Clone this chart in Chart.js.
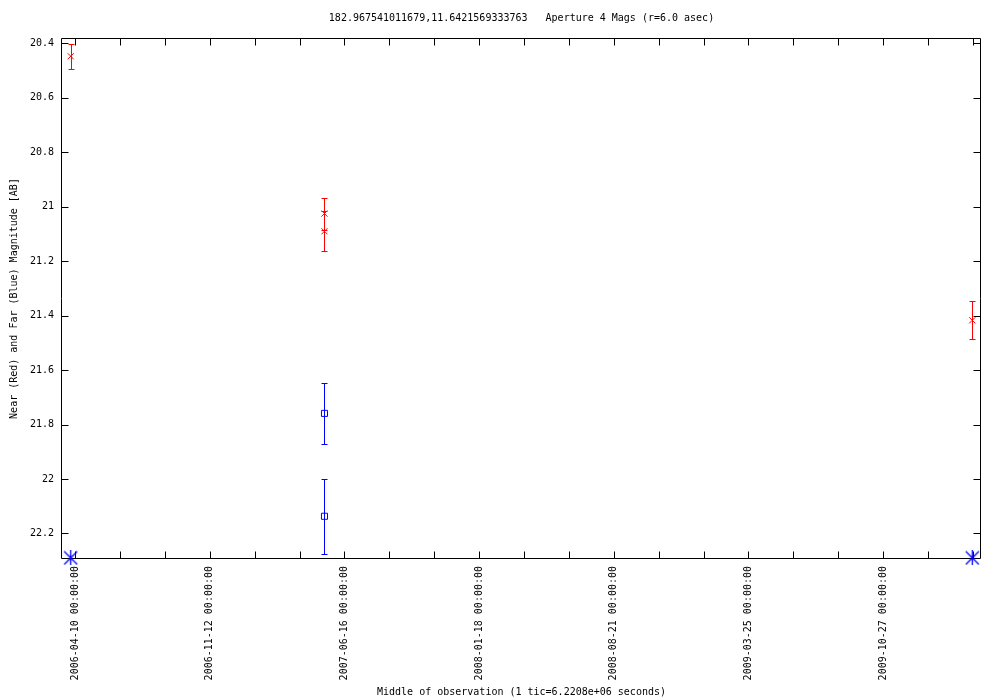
<!DOCTYPE html>
<html>
<head>
<meta charset="utf-8">
<script src="https://cdn.jsdelivr.net/npm/chart.js@4/dist/chart.umd.min.js"></script>
<style>
  html, body { margin: 0; padding: 0; background: #fff; }
  #wrap { width: 1000px; height: 700px; }
</style>
</head>
<body>
<div id="wrap"><canvas id="c" width="1000" height="700"></canvas></div>
<script>
// ---- data ----
const titleText = '182.967541011679,11.6421569333763   Aperture 4 Mags (r=6.0 asec)';
const xTitle = 'Middle of observation (1 tic=6.2208e+06 seconds)';
const yTitle = 'Near (Red) and Far (Blue) Magnitude [AB]';

const nearDates  = ['2006-04-03', '2007-05-15', '2007-05-15', '2010-03-19'];
const nearMags   = [20.447, 21.025, 21.090, 21.417];
const nearErrors = [0.046, 0.059, 0.073, 0.069];

const farDates  = ['2007-05-15', '2007-05-15'];
const farMags   = [21.759, 22.137];
const farErrors = [0.112, 0.137];

const limitDates = ['2006-04-03', '2010-03-19'];
const limitMags  = [22.29, 22.29];

const xRange = ['2006-03-20', '2010-04-02'];
const yRange = [20.380, 22.294];
const tickDays = 72;       // 1 tic = 6.2208e+06 s
const labelEvery = 3;
const yStep = 0.2;

// ---- helpers ----
const DAY = 86400000;
const toDays = s => Date.UTC(+s.slice(0,4), +s.slice(5,7) - 1, +s.slice(8,10)) / DAY;
const pts = (dates, vals) => dates.map((d, i) => ({x: toDays(d), y: vals[i]}));
function stepTicks(step) {
  return scale => {
    const out = [];
    for (let k = Math.ceil(scale.min / step - 1e-9); k * step <= scale.max + 1e-9; k++) {
      out.push({value: Math.round(k * step * 1e6) / 1e6});
    }
    scale.ticks = out;
  };
}

// asterisk marker (vertical + diagonals)
function makeStar(color) {
  const c = document.createElement('canvas');
  c.width = 15; c.height = 15;
  const g = c.getContext('2d');
  g.strokeStyle = color; g.lineWidth = 1.3;
  g.beginPath();
  g.moveTo(7.5, 0); g.lineTo(7.5, 15);
  g.moveTo(1, 1); g.lineTo(14, 14);
  g.moveTo(14, 1); g.lineTo(1, 14);
  g.stroke();
  return c;
}

const FONT = {family: 'DejaVu Sans Mono', size: 10};
Chart.defaults.font.family = FONT.family;
Chart.defaults.font.size = FONT.size;
Chart.defaults.color = '#000';

const frameTicks = {
  id: 'frameTicks',
  beforeDatasetsDraw(chart) {
    const ctx = chart.ctx, a = chart.chartArea;
    const L = Math.round(a.left) - 0.5, R = Math.round(a.right) - 0.5;
    const T = Math.round(a.top) + 0.5, B = Math.round(a.bottom) - 0.5;
    const len = 7;
    ctx.save();
    ctx.strokeStyle = '#000';
    ctx.lineWidth = 1;
    ctx.beginPath();
    ctx.rect(L, T, R - L, B - T);
    chart.scales.x.ticks.forEach(t => {
      const x = Math.round(chart.scales.x.getPixelForValue(t.value)) + 0.5;
      ctx.moveTo(x, B); ctx.lineTo(x, B - len);
      ctx.moveTo(x, T); ctx.lineTo(x, T + len);
    });
    chart.scales.y.ticks.forEach(t => {
      const y = Math.round(chart.scales.y.getPixelForValue(t.value)) + 0.5;
      ctx.moveTo(L, y); ctx.lineTo(L + len, y);
      ctx.moveTo(R, y); ctx.lineTo(R - len, y);
    });
    ctx.stroke();
    ctx.restore();
  }
};

const errorBars = {
  id: 'errorBars',
  afterDatasetsDraw(chart) {
    const ctx = chart.ctx, ys = chart.scales.y, xs = chart.scales.x;
    chart.data.datasets.forEach(ds => {
      if (!ds.errors) return;
      ctx.save();
      ctx.strokeStyle = ds.borderColor;
      ctx.lineWidth = 1;
      ds.data.forEach((p, i) => {
        const e = ds.errors[i];
        const x = Math.round(xs.getPixelForValue(p.x)) + 0.5;
        const y1 = Math.round(ys.getPixelForValue(p.y - e)) + 0.5;
        const y2 = Math.round(ys.getPixelForValue(p.y + e)) + 0.5;
        ctx.beginPath();
        ctx.moveTo(x, y1); ctx.lineTo(x, y2);
        ctx.moveTo(x - 3, y1); ctx.lineTo(x + 3, y1);
        ctx.moveTo(x - 3, y2); ctx.lineTo(x + 3, y2);
        ctx.stroke();
      });
      ctx.restore();
    });
  }
};

new Chart(document.getElementById('c'), {
  type: 'scatter',
  data: {
    datasets: [
      {
        label: 'Near',
        data: pts(nearDates, nearMags),
        errors: nearErrors,
        borderColor: '#ff0000',
        backgroundColor: '#ff0000',
        pointStyle: 'crossRot',
        pointRadius: 4.3,
        pointBorderWidth: 1,
        pointHoverRadius: 4.3
      },
      {
        label: 'Far',
        data: pts(farDates, farMags),
        errors: farErrors,
        borderColor: '#0000ff',
        backgroundColor: 'rgba(0,0,0,0)',
        pointStyle: 'rect',
        pointRadius: 4.3,
        pointBorderWidth: 1,
        pointHoverRadius: 4.3
      },
      {
        label: 'Limits',
        data: pts(limitDates, limitMags),
        borderColor: '#0000ff',
        backgroundColor: '#0000ff',
        pointStyle: makeStar('#0000ff'),
        clip: false
      }
    ]
  },
  options: {
    responsive: false,
    animation: false,
    events: [],
    layout: { padding: { left: 0, right: 19, top: 0, bottom: 0 } },
    plugins: {
      legend: { display: false },
      tooltip: { enabled: false },
      title: {
        display: true,
        fullSize: false,
        text: titleText,
        color: '#000',
        font: { family: FONT.family, size: 10, weight: 'normal' },
        padding: { top: 12, bottom: 14 }
      }
    },
    scales: {
      x: {
        type: 'linear',
        bounds: 'data',
        min: toDays(xRange[0]),
        max: toDays(xRange[1]),
        grid: { display: false, drawTicks: false },
        border: { display: false },
        afterFit(s) { s.height = 141; },
        afterBuildTicks: stepTicks(tickDays),
        ticks: {
          autoSkip: false,
          minRotation: 90,
          maxRotation: 90,
          padding: 7,
          color: '#000',
          font: FONT,
          callback(v) {
            const n = Math.round(v / tickDays);
            if (((n % labelEvery) + labelEvery) % labelEvery !== 1) return '';
            return new Date(v * DAY).toISOString().slice(0, 10) + ' 00:00:00';
          }
        },
        title: {
          display: true,
          text: xTitle,
          color: '#000',
          font: FONT,
          padding: { top: 0, bottom: 2 }
        }
      },
      y: {
        type: 'linear',
        reverse: true,
        bounds: 'data',
        min: yRange[0],
        max: yRange[1],
        grid: { display: false, drawTicks: false },
        border: { display: false },
        afterFit(s) { s.width = 62; },
        afterBuildTicks: stepTicks(yStep),
        ticks: {
          autoSkip: false,
          padding: 8,
          color: '#000',
          font: FONT,
          callback(v) { return String(+v.toFixed(1)); }
        },
        title: {
          display: true,
          text: yTitle,
          color: '#000',
          font: FONT,
          padding: { top: 8, bottom: 0 }
        }
      }
    }
  },
  plugins: [frameTicks, errorBars]
});
</script>
</body>
</html>
